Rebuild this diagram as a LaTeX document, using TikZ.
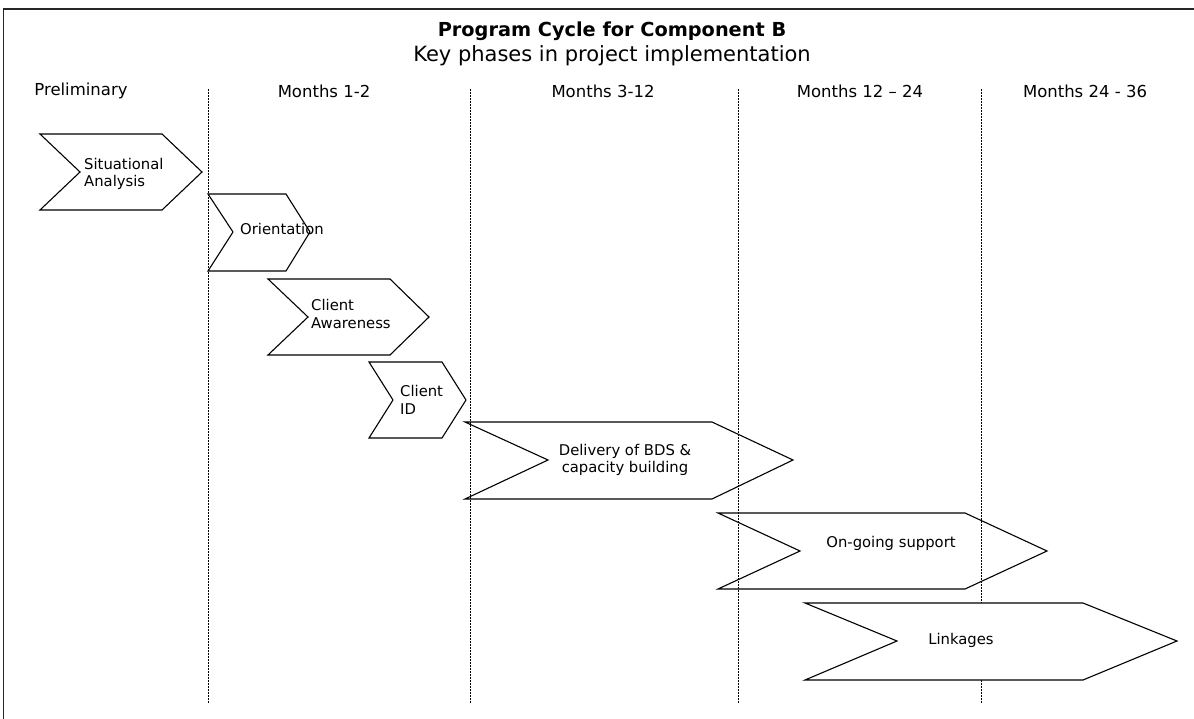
\documentclass[tikz,border=0pt]{standalone}
\usepackage{fontspec}
\setmainfont{DejaVu Sans}
\usetikzlibrary{positioning}

\begin{document}
\begin{tikzpicture}[x=1pt,y=-1pt,
  every node/.style={inner sep=0pt,font=\fontsize{14.8}{17.5}\selectfont},
  title/.style={font=\fontsize{19.3}{23}\selectfont\bfseries},
  subtitle/.style={font=\fontsize{21}{24}\selectfont},
  colhead/.style={font=\fontsize{16.5}{20}\selectfont},
  phase/.style={draw=black,line width=1.1pt,line join=miter},
  ptext/.style={align=left,anchor=west},
  ctext/.style={align=center},
  divider/.style={line width=0.9pt,dash pattern=on 0.9pt off 0.6pt},
  frame/.style={draw=black!85,line width=1.8pt},
  ]

  \useasboundingbox (0,0) rectangle (1194,719);

  %─── Frame (only left and top edges are in view) ──────────────────────────
  \draw[frame] (3.5,719) -- (3.5,9) -- (1194,9);

  %─── Heading ──────────────────────────────────────────────────────────────
  \node[title] (title) at (612,31) {Program Cycle for Component B};
  \node[subtitle] (subtitle) at (612,56) {Key phases in project implementation};

  %─── Column heads ─────────────────────────────────────────────────────────
  \node[colhead] (prelim) at (81,91) {Preliminary};
  \node[colhead] (m1) at (324,91) {Months 1-2};
  \node[colhead] (m3) at (603,91) {Months 3-12};
  \node[colhead] (m12) at (860,91) {Months 12 -- 24};
  \node[colhead] (m24) at (1085,91) {Months 24 - 36};

  %─── Dotted dividers between the periods ──────────────────────────────────
  \foreach \x in {208,470,738,981}
    \draw[divider] (\x,89) -- (\x,703);

  %─── Situational Analysis ─────────────────────────────────────────────────
  \draw[phase] (40,134) -- (162,134) -- (202,172) -- (162,210)
    -- (40,210) -- (80,172) -- cycle;
  \node[ptext] (sit) at (84,174) {Situational\\Analysis};

  %─── Orientation ──────────────────────────────────────────────────────────
  \draw[phase] (208,194) -- (286,194) -- (310,232) -- (286,271)
    -- (208,271) -- (233,232) -- cycle;
  \node[ptext] (orient) at (240,229) {Orientation};

  %─── Client Awareness ─────────────────────────────────────────────────────
  \draw[phase] (268,279) -- (390,279) -- (429,317) -- (390,355)
    -- (268,355) -- (308,317) -- cycle;
  \node[ptext] (aware) at (311,314) {Client\\Awareness};

  %─── Client ID ────────────────────────────────────────────────────────────
  \draw[phase] (369,362) -- (442,362) -- (466,400) -- (442,438)
    -- (369,438) -- (393,400) -- cycle;
  \node[ptext] (cid) at (400,400) {Client\\ID};

  %─── Delivery of BDS ──────────────────────────────────────────────────────
  \draw[phase] (465,422) -- (712,422) -- (793,460) -- (712,499)
    -- (465,499) -- (548,460) -- cycle;
  \node[ctext] (bds) at (625,460) {Delivery of BDS \&\\capacity building};

  %─── On-going support ─────────────────────────────────────────────────────
  \draw[phase] (718,513) -- (965,513) -- (1047,551) -- (965,589)
    -- (718,589) -- (800,551) -- cycle;
  \node[ctext] (support) at (891,543) {On-going support};

  %─── Linkages (white, hides the divider) ──────────────────────────────────
  \draw[phase,fill=white] (805,603) -- (1083,603) -- (1177,641) -- (1083,680)
    -- (805,680) -- (897,641) -- cycle;
  \node[ctext] (link) at (961,640) {Linkages};

\end{tikzpicture}
\end{document}
